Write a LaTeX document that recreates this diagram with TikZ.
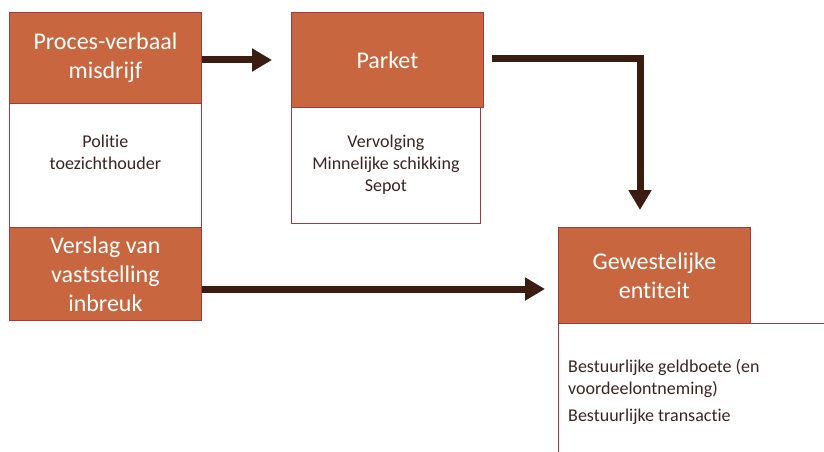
\documentclass[tikz,border=0pt]{standalone}
\usepackage{fontspec}
\setmainfont[Ligatures=CommonOff]{Carlito}
\usetikzlibrary{arrows.meta}
\definecolor{oranje}{HTML}{C8673F}
\definecolor{rand}{HTML}{A23A3F}
\definecolor{bruin}{HTML}{3A1C10}
\definecolor{tekst}{HTML}{3B2520}
\begin{document}
\begin{tikzpicture}[x=1pt,y=-1pt,
    kop/.style={draw=rand,fill=oranje,text=white,font=\fontsize{24}{29}\selectfont,
      align=center,anchor=north west,inner sep=0pt,line width=0.8pt},
    vak/.style={draw=rand,fill=white,anchor=north west,inner sep=0pt,line width=0.8pt},
    klein/.style={text=tekst,font=\fontsize{18}{22}\selectfont,inner sep=0pt},
    pijl/.style={draw=bruin,line width=7pt,-{Triangle[length=20pt,width=22pt]}}]
    \useasboundingbox (0,0) rectangle (824,452);
    % linker kolom
    \node[vak,minimum width=192pt,minimum height=124pt] (pol) at (9,103) {};
    \node[klein,align=center] (poltxt) at ([yshift=13pt]pol.center) {Politie\\toezichthouder};
    \node[kop,minimum width=192pt,minimum height=91pt] (pv) at (9,12) {Proces-verbaal\\misdrijf};
    \node[kop,minimum width=192pt,minimum height=93pt] (vv) at (9,227) {Verslag van\\vaststelling\\inbreuk};
    % parket
    \node[vak,minimum width=189pt,minimum height=116pt] (verv) at (291,107) {};
    \node[klein,align=center] (vervtxt) at ([yshift=1pt]verv.center) {Vervolging\\Minnelijke schikking\\Sepot};
    \node[kop,minimum width=192pt,minimum height=95pt] (park) at (291,12) {Parket};
    % gewestelijke entiteit
    \coordinate (gr) at (824,323);
    \coordinate (go) at (558,452);
    \draw[rand,line width=0.8pt] (gr) -- (558,323) -- (go);
    \node[kop,minimum width=192pt,minimum height=96pt] (gew) at (558,227) {Gewestelijke\\entiteit};
    \node[klein,align=left,anchor=north west] (sanc) at (568,359)
      {Bestuurlijke geldboete (en\\voordeelontneming)\\[5pt]Bestuurlijke transactie};
    % pijlen
    \coordinate (p1) at (272,60);
    \coordinate (p2) at (640,210);
    \coordinate (p3) at (545,289);
    \draw[pijl] (pv.east |- p1) -- (p1);
    \draw[pijl] ([xshift=8pt]park.east |- 0,59) -| (p2);
    \draw[pijl] (vv.east |- p3) -- (p3);
  \end{tikzpicture}
\end{document}
